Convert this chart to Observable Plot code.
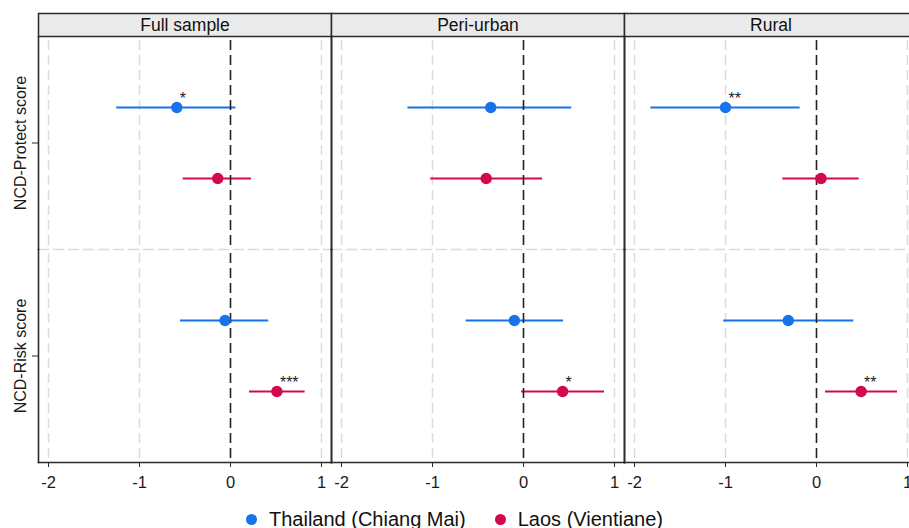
<!DOCTYPE html>
<html><head><meta charset="utf-8">
<script src="https://cdn.jsdelivr.net/npm/d3@7"></script>
<script src="https://cdn.jsdelivr.net/npm/@observablehq/plot@0.6"></script>
<style>
body{margin:0;background:#fff;font-family:"Liberation Sans",Arial,sans-serif;}
#legend{display:flex;justify-content:center;align-items:center;font-size:20px;color:#111;height:28px;padding-top:5px}
.sw{display:inline-flex;align-items:center}
.dot{width:11px;height:11px;border-radius:50%;display:inline-block;margin-right:12px}
.sw + .sw{margin-left:29px}
</style></head><body><div id="chart"></div><div id="legend"></div>
<script>
const panels = ["Full sample", "Peri-urban", "Rural"];
const outcomes = ["NCD-Protect score", "NCD-Risk score"];
const countries = ["Thailand (Chiang Mai)", "Laos (Vientiane)"];
const colors = ["#1773EB", "#D10A50"];
// order: panel > outcome > country
const estimate = [-0.59, -0.14, -0.06, 0.51,  -0.36, -0.41, -0.10, 0.43,  -1.00, 0.05, -0.31, 0.49];
const ciLow    = [-1.25, -0.52, -0.55, 0.21,  -1.27, -1.02, -0.63, -0.02, -1.82, -0.37, -1.02, 0.10];
const ciHigh   = [ 0.06,  0.23,  0.42, 0.82,   0.53,  0.21,  0.44, 0.89,  -0.18, 0.47, 0.41, 0.89];
const stars    = ["*", "", "", "***",  "", "", "", "*",  "**", "", "", "**"];
const xTicks = [-2, -1, 0, 1];
const gridTicks = [-2, -1, 1];
const refLine = [0];

const data = [];
let k = 0;
for (const p of panels) for (const o of outcomes) for (const c of countries) {
  data.push({panel: p, outcome: o, country: c, est: estimate[k], lo: ciLow[k], hi: ciHigh[k], star: stars[k]});
  k++;
}

const W = 909, H = 500, mT = 36, mB = 38, mL = 37, mR = -9;
const rowH = (H - mT - mB) / 2;
const dark = "#2b2b2b";
const grid = {stroke: "#dcdcdc", strokeDasharray: "10,5", strokeWidth: 1.5};

const chart = Plot.plot({
  width: W, height: H, marginTop: mT, marginBottom: mB, marginLeft: mL, marginRight: mR,
  style: {fontFamily: "Liberation Sans, Arial, sans-serif", fontSize: "16px", color: "#1a1a1a", background: "white", overflow: "hidden"},
  x: {domain: [-2.11, 1.11], axis: null},
  y: {domain: countries, type: "point", padding: 1, axis: null},
  fx: {domain: panels, padding: 0, axis: null},
  fy: {domain: outcomes, padding: 0, axis: null},
  color: {domain: countries, range: colors},
  marks: [
    Plot.frame({fy: () => outcomes[0], insetTop: -23, insetBottom: rowH, fill: "#ebebeb", stroke: dark, strokeWidth: 1.5}),
    Plot.text(panels, {fx: d => d, fy: () => outcomes[0], frameAnchor: "top", lineAnchor: "middle", dy: -11.5, text: d => d, fontSize: 17.5, fill: "#111"}),
    Plot.ruleX(gridTicks, {...grid, insetTop: 4}),
    Plot.frame({fy: () => outcomes[0], anchor: "bottom", ...grid}),
    Plot.ruleY(data, {fx: "panel", fy: "outcome", y: "country", x1: "lo", x2: "hi", stroke: "country", strokeWidth: 2}),
    Plot.ruleX(refLine, {stroke: "#222", strokeDasharray: "10,5", strokeWidth: 1.6, insetTop: 4}),
    Plot.dot(data, {fx: "panel", fy: "outcome", x: "est", y: "country", fill: "country", r: 5.7}),
    Plot.text(data, {fx: "panel", fy: "outcome", x: "est", y: "country", text: "star", dx: 3, dy: -9, textAnchor: "start", fontSize: 16, fill: "#222"}),
    Plot.frame({anchor: "left", stroke: dark, strokeWidth: 1.6}),
    Plot.frame({anchor: "right", stroke: dark, strokeWidth: 1.6}),
    Plot.frame({fy: () => outcomes[1], anchor: "bottom", stroke: dark, strokeWidth: 1.6}),
    Plot.axisX(xTicks, {tickSize: 5, tickPadding: 9, tickFormat: d => String(d), fontSize: 16.5, label: null, stroke: dark}),
    Plot.axisFy({anchor: "left", tickSize: 6, tickRotate: -90, tickPadding: 7, fontSize: 16, label: null, stroke: dark})
  ]
});
document.getElementById("chart").appendChild(chart);

const legend = document.getElementById("legend");
countries.forEach((c, i) => {
  const s = document.createElement("span");
  s.className = "sw";
  const d = document.createElement("span");
  d.className = "dot";
  d.style.background = colors[i];
  s.appendChild(d);
  s.appendChild(document.createTextNode(c));
  legend.appendChild(s);
});
</script></body></html>
